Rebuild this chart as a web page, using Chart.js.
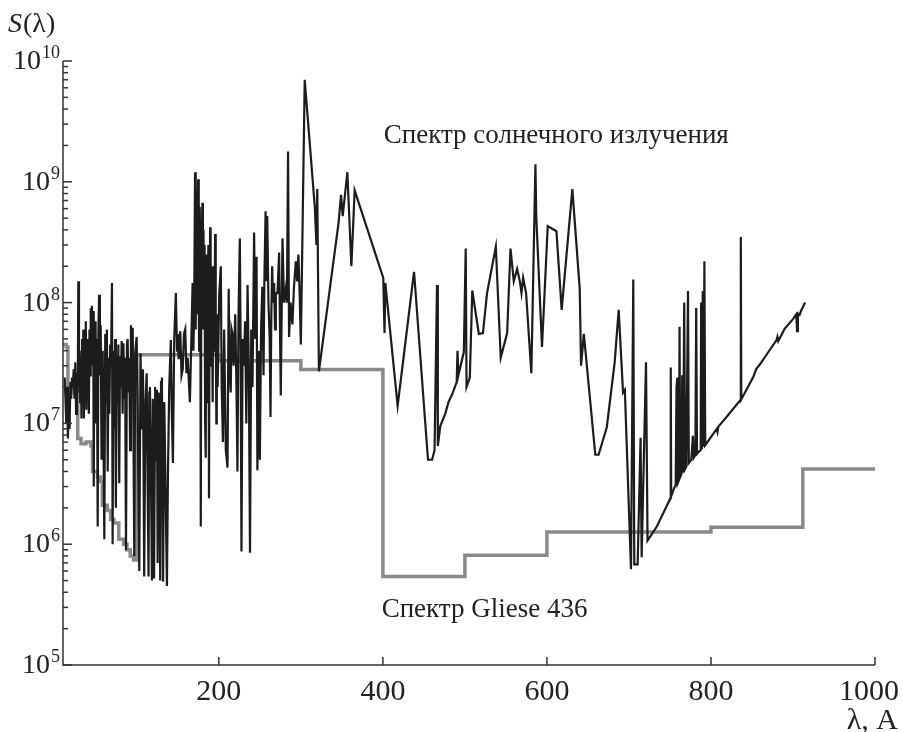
<!DOCTYPE html>
<html>
<head>
<meta charset="utf-8">
<script src="https://cdn.jsdelivr.net/npm/chart.js@4.4.1/dist/chart.umd.min.js"></script>
<style>
  body { margin: 0; background: #fff; }
  #wrap { width: 903px; height: 732px; }
</style>
</head>
<body>
<div id="wrap"><canvas id="spectrumChart" width="903" height="732"></canvas></div>
<script>
// Solar spectrum (wavelength in A, flux)
const solarWl = [
  12, 13, 14, 15, 16, 17, 18, 19, 20, 21,
  22, 23, 24, 25, 26, 27, 28, 28.7, 29.5, 30.3,
  31, 31.8, 32.5, 33.3, 34, 34.8, 35.5, 36.3, 37, 37.8,
  38.5, 39.3, 40, 40.8, 41.5, 42.3, 43, 43.8, 44.5, 45.3,
  46, 46.8, 47.5, 48.2, 49, 49.7, 50.5, 51.3, 52.3, 53.2,
  54, 55, 56, 57, 58.4, 59.3, 60.4, 61.5, 62.5, 63.5,
  64.5, 65.5, 66.5, 67.5, 68.5, 69.7, 70.5, 71.5, 72.5, 73.5,
  74.5, 75.5, 76.5, 77.5, 78.6, 79.5, 80.5, 81.5, 82.7, 83.7,
  84.7, 85.7, 86.8, 88, 88.8, 89.8, 90.8, 91.8, 92.8, 93.8,
  95, 96.9, 98, 99.8, 101, 103, 104.5, 106, 107.5, 109,
  110.5, 112, 113.2, 114.3, 115.2, 116, 117.2, 118.4, 119.5, 121,
  122.4, 123.5, 124.5, 125.4, 126.5, 127.5, 128.5, 129.5, 130.6, 132,
  133.5, 135, 136.7, 138, 139.5, 141.5, 142.5, 144, 145.6, 147.6,
  149, 150, 151, 153, 154.5, 156, 157.5, 159, 160.5, 162,
  164.7, 166.5, 168, 169, 170, 171, 171.8, 172.5, 173.3, 174,
  174.8, 175.5, 176, 176.5, 177, 177.5, 178, 178.6, 179.3, 180,
  180.6, 181.3, 182, 182.6, 183.3, 184, 184.6, 185.3, 186, 186.6,
  187.3, 188, 188.7, 189.4, 190, 190.5, 191, 191.5, 192, 192.5,
  193, 193.5, 194, 194.5, 195, 195.5, 196.2, 197, 197.5, 198,
  198.5, 199, 200.5, 202.4, 203.5, 205, 206.5, 208.5, 210.6, 212,
  213, 214.5, 215.5, 216.6, 218, 220, 221.5, 222.7, 224, 225.6,
  226.5, 227.6, 229, 230.5, 232, 233.5, 235, 236.5, 238, 239.5,
  241, 243, 244.5, 246, 247, 248.5, 250, 251.5, 253, 254.5,
  255.5, 257, 258, 259, 260.5, 262, 263, 264, 265, 266.2,
  267.4, 268.5, 269.5, 271.5, 273.5, 275.5, 277.6, 279.5, 281.6, 283,
  284.4, 285.6, 287.5, 289.7, 291.5, 293.8, 295.5, 297, 298.5, 300,
  304.7, 317, 319, 320, 322, 346, 349, 351, 356.7, 361.6,
  365.6, 400.5, 402, 403, 418, 438, 455, 460, 463, 466,
  467, 470, 476, 480, 484.6, 490, 491, 492, 498.7, 501,
  502, 506, 509, 517, 522, 527, 537.7, 543.7, 551.5, 555.6,
  559.6, 563.7, 567, 569, 571, 574.6, 581, 586, 587, 594,
  601, 611.6, 618, 631, 640, 641.6, 645, 659, 663, 673,
  682.6, 687.5, 692.8, 695, 702.5, 705.3, 706.5, 710.6, 714.2, 715.5,
  720.8, 722.7, 734, 745, 750.5, 751, 751.5, 755, 757, 758,
  759, 759.5, 761, 761.7, 762.5, 764, 765, 766, 767.4, 768.5,
  770, 772, 773, 776, 778, 779, 781, 782, 783, 786,
  787.5, 788, 789, 790, 791, 792, 793, 801, 807, 808,
  809, 820, 835.6, 836.4, 837, 852, 855, 860, 870, 880,
  881, 882, 890, 900, 904, 905, 906, 908, 910, 914.8
];
const solarFlux = [
  2.4e7, 1.6e7, 1.0e7, 2.0e7, 7.5e6, 1.5e7, 9e6, 2.2e7, 1.6e7, 2.4e7,
  2.0e7, 2.8e7, 1.6e7, 3.2e7, 1.2e7, 2.6e7, 1.8e7, 1.5e8, 2.0e7, 4e7,
  1.5e7, 3.5e7, 1.1e7, 5e7, 2.3e7, 6e7, 1.1e7, 4.5e7, 1.8e7, 7e7,
  1.3e7, 5e7, 2.2e7, 4.2e7, 1.2e7, 6e7, 2.5e7, 9e7, 4e7, 9.4e7,
  3e7, 8.5e7, 3e6, 6e7, 1.0e7, 7e7, 2e7, 5e7, 1.4e6, 6e7,
  1.16e8, 2.5e7, 6.5e7, 5e6, 4e7, 8.9e6, 1.1e6, 5.5e7, 1.5e7, 6e7,
  4e6, 3.5e7, 1.2e7, 4.5e7, 3e7, 1.45e8, 1.0e6, 4e7, 9e6, 5e7,
  2e6, 3.6e7, 1.5e7, 4.5e7, 3.2e6, 3.6e7, 2e7, 4.8e7, 1.2e7, 4.6e7,
  1.6e7, 3.5e7, 8.9e5, 4.5e7, 5e7, 1.8e7, 3.5e7, 6e6, 6.5e7, 2.2e7,
  6.2e7, 8e5, 3.8e7, 5.2e7, 1.4e7, 6e5, 3.8e7, 8.9e6, 2.8e7, 5.4e5,
  1.5e7, 2.6e7, 3e6, 5.4e5, 1.8e7, 2e7, 4e6, 5e5, 1.6e7, 5.2e5,
  2.0e7, 5e6, 1.9e7, 7e5, 1.8e7, 1.5e7, 5e5, 2.2e7, 2.4e7, 4.9e5,
  1.5e7, 3e6, 4.5e5, 4e6, 2e7, 4.9e7, 1.4e7, 4.7e6, 5e7, 1.2e8,
  4e7, 5.5e7, 3.4e7, 5.8e7, 2.5e7, 2.8e7, 5.5e7, 6e7, 2.6e7, 3.5e7,
  1.5e7, 5e7, 1.45e8, 4e7, 1e8, 1.2e9, 6e7, 4e8, 8e7, 5e8,
  1.05e9, 1e8, 4e7, 3e8, 6.2e8, 8e7, 1.4e6, 1.5e8, 4e8, 6.7e8,
  6e7, 4e8, 8e7, 3e8, 1e7, 5.2e6, 1.2e8, 2.5e8, 1.5e7, 1.5e8,
  3e8, 2.4e6, 1.2e8, 4.2e8, 6e7, 3e7, 2e8, 1.5e8, 4e7, 1.5e7,
  1.2e8, 2e8, 5e7, 4e7, 1.5e8, 3.7e8, 6e7, 1e7, 5e7, 8e7,
  2e7, 3e7, 1.2e8, 2e8, 2e7, 7e6, 6e7, 6e6, 4.3e6, 1.3e8,
  3e7, 1.8e7, 6e7, 5.5e7, 3e7, 8e7, 2e7, 4e6, 8e7, 3.4e8,
  5e7, 8.7e5, 5e7, 3e7, 7e7, 1e7, 1.4e8, 3e7, 8.5e5, 6e7,
  2e7, 3.8e8, 5e7, 2.4e8, 4.1e6, 4e7, 5e6, 6e7, 1.35e8, 2.5e7,
  1.5e8, 5.7e8, 1.5e8, 5.2e8, 1e8, 5e7, 1.13e7, 8e7, 2e8, 1e8,
  1.45e8, 6e7, 1.2e8, 1.2e8, 2.6e8, 1.7e7, 3.4e8, 1e8, 1.3e8, 1e8,
  1.78e9, 5.2e7, 1e8, 6.6e7, 1.3e8, 2.2e8, 1.5e8, 2.5e8, 1.2e8, 4.5e7,
  7e9, 6.2e8, 3e8, 8.7e8, 2.7e7, 4.6e8, 7.8e8, 5.2e8, 1.2e9, 2e8,
  8.5e8, 1.6e8, 5.6e7, 1.45e8, 1.4e7, 1.8e8, 5e6, 5e6, 6e6, 1.4e8,
  6.5e6, 9.5e6, 1.2e7, 1.5e7, 1.75e7, 2.2e7, 4e7, 2.5e7, 3.9e7, 2.8e8,
  2e7, 2.4e7, 1.26e8, 5.5e7, 5.6e7, 1.2e8, 2.9e8, 3.5e7, 5.6e7, 2.8e8,
  1.5e8, 1.9e8, 1.5e8, 1.2e8, 1.6e8, 1.2e8, 2.6e7, 1.4e9, 5.2e8, 4.3e7,
  4.3e8, 3.9e8, 8.7e7, 8.7e8, 1.3e8, 3e7, 5.5e7, 5.5e6, 5.5e6, 9.3e6,
  3.2e7, 8.7e7, 1.8e7, 1.9e7, 6.2e5, 1.55e8, 6.8e5, 6.8e5, 7.6e6, 7.8e5,
  3.2e7, 1.07e6, 1.4e6, 2.0e6, 2.4e6, 2.9e7, 2.5e6, 2.9e6, 3.1e6, 2.0e7,
  2.4e7, 3.2e6, 3.4e6, 6.3e7, 3.6e6, 3.8e6, 2.5e7, 3.9e6, 1e8, 4.2e6,
  4.4e6, 1.25e8, 4.7e6, 5e6, 7.9e6, 5.2e6, 5.5e6, 9e7, 5.6e6, 5.9e6,
  6e6, 1e8, 6.1e6, 1.25e8, 6.4e6, 2.2e8, 6.6e6, 7.9e6, 9e6, 8.5e6,
  9.4e6, 1.15e7, 1.55e7, 3.5e8, 1.58e7, 2.45e7, 2.8e7, 3.1e7, 3.9e7, 4.9e7,
  5.2e7, 4.8e7, 6.1e7, 7.3e7, 8e7, 5.8e7, 8.1e7, 7.9e7, 8.6e7, 1e8
];

// Gliese 436 spectrum (step values, each holds until the next wavelength)
const glieseWl = [10, 14, 16, 24, 28, 32, 38, 44, 46, 52, 56, 58, 64, 68, 72, 78, 84, 88, 92, 96, 100, 200, 300, 400, 500, 600, 800, 912, 1000];
const glieseFlux = [4.5e7, 4.3e7, 2.0e7, 1.8e7, 7.5e6, 6.8e6, 7.0e6, 6.5e6, 4.0e6, 3.6e6, 3.3e6, 2.1e6, 1.9e6, 1.6e6, 1.5e6, 1.1e6, 1.0e6, 9.0e5, 8.0e5, 7.4e5,
  3.7e7, 3.3e7, 2.8e7, 5.4e5, 8.1e5, 1.26e6, 1.38e6, 4.2e6, 4.2e6];

const xTicks = [200, 400, 600, 800, 1000];
const yPowers = [5, 6, 7, 8, 9, 10];

const SERIF = '"Liberation Serif", "Times New Roman", serif';

const paperAxes = {
  id: 'paperAxes',
  afterDraw(chart) {
    const { ctx, chartArea: a, scales: { x, y } } = chart;
    ctx.save();
    ctx.strokeStyle = '#333';
    ctx.lineWidth = 1.5;
    ctx.beginPath();
    ctx.moveTo(a.left, a.top);
    ctx.lineTo(a.left, a.bottom);
    ctx.lineTo(a.right, a.bottom);
    ctx.stroke();

    ctx.fillStyle = '#222';
    ctx.font = '30px ' + SERIF;
    ctx.textAlign = 'center';
    ctx.textBaseline = 'alphabetic';
    xTicks.forEach(v => {
      const px = x.getPixelForValue(v);
      ctx.beginPath();
      ctx.moveTo(px, a.bottom);
      ctx.lineTo(px, a.bottom - 8);
      ctx.stroke();
      // keep the last label inside the canvas
      const w = ctx.measureText(String(v)).width;
      const cx = Math.min(px, chart.width - 4 - w / 2);
      ctx.fillText(String(v), cx, a.bottom + 35);
    });

    // y axis: major + minor ticks, 10^n labels
    yPowers.forEach(p => {
      const py = y.getPixelForValue(Math.pow(10, p));
      ctx.beginPath();
      ctx.moveTo(a.left, py);
      ctx.lineTo(a.left + 9, py);
      ctx.stroke();
      if (p < 10) {
        for (let m = 2; m <= 9; m++) {
          const pm = y.getPixelForValue(m * Math.pow(10, p));
          ctx.beginPath();
          ctx.moveTo(a.left, pm);
          ctx.lineTo(a.left + 5, pm);
          ctx.stroke();
        }
      }
      const exp = String(p);
      ctx.textAlign = 'right';
      ctx.font = '18px ' + SERIF;
      const ew = ctx.measureText(exp).width;
      ctx.fillText(exp, 60, py - 3);
      ctx.font = '28px ' + SERIF;
      ctx.fillText('10', 59 - ew, py + 8);
    });

    // axis titles
    ctx.textAlign = 'right';
    ctx.font = '30px ' + SERIF;
    ctx.fillText('\u03bb, A', 898, 729);

    ctx.textAlign = 'left';
    ctx.font = 'italic 28px ' + SERIF;
    ctx.fillText('S', 8, 32);
    const sw = ctx.measureText('S').width;
    ctx.font = '28px ' + SERIF;
    ctx.fillText('(\u03bb)', 8 + sw + 1, 32);

    // series annotations
    ctx.font = '27px ' + SERIF;
    ctx.fillText('Спектр солнечного излучения', x.getPixelForValue(401), y.getPixelForValue(2.1e9));
    ctx.fillText('Спектр Gliese 436', x.getPixelForValue(398.5), y.getPixelForValue(2.5e5));
    ctx.restore();
  }
};

new Chart(document.getElementById('spectrumChart'), {
  type: 'line',
  data: {
    datasets: [
      {
        label: 'Спектр солнечного излучения',
        data: solarWl.map((w, i) => ({ x: w, y: solarFlux[i] })),
        borderColor: '#1c1c1c',
        borderWidth: 2.2,
        pointRadius: 0,
        tension: 0,
      },
      {
        label: 'Спектр Gliese 436',
        data: glieseWl.map((w, i) => ({ x: w, y: glieseFlux[i] })),
        borderColor: '#8a8a8a',
        borderWidth: 3.5,
        pointRadius: 0,
        stepped: 'before',
      },
    ],
  },
  options: {
    responsive: false,
    animation: false,
    layout: { padding: { left: 63, right: 28, top: 61, bottom: 67 } },
    plugins: {
      legend: { display: false },
      tooltip: { enabled: false },
    },
    scales: {
      x: { type: 'linear', min: 10, max: 1000, display: false },
      y: { type: 'logarithmic', min: 1e5, max: 1e10, display: false },
    },
  },
  plugins: [paperAxes],
});
</script>
</body>
</html>
